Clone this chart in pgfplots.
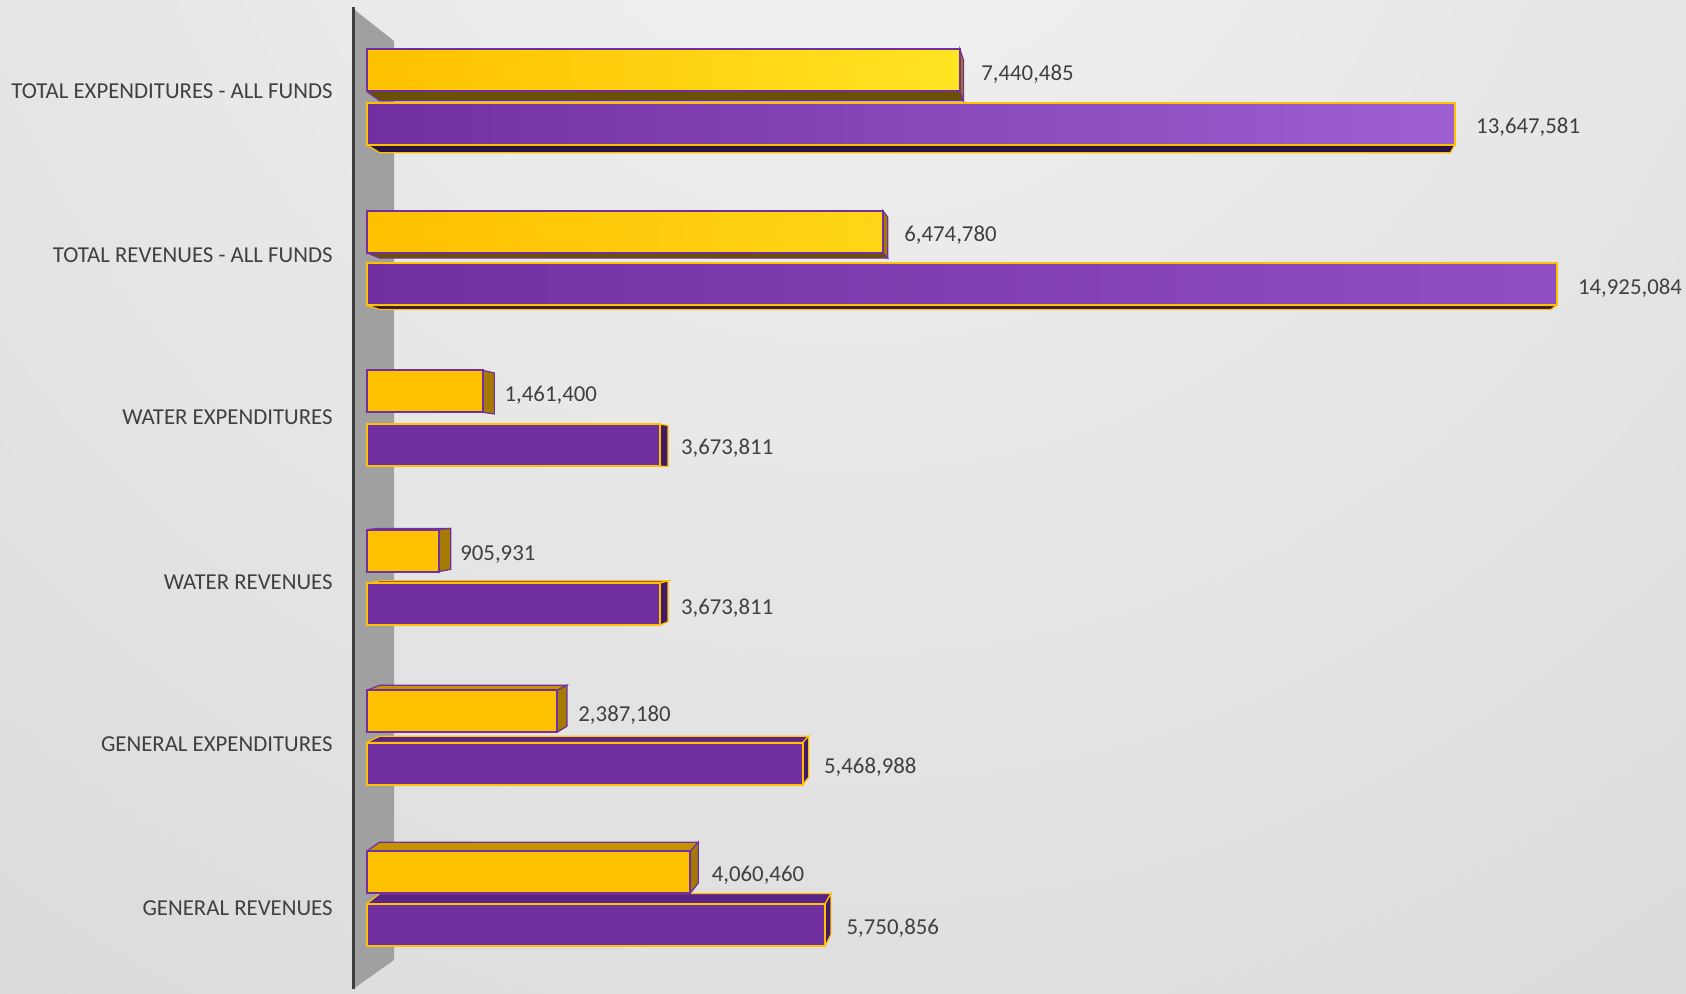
\documentclass[border=0pt]{standalone}
\usepackage{pgfplots}
\pgfplotsset{compat=1.18}
\usepackage{pgfplotstable}
\usepackage{fontspec}
\setmainfont{Carlito}
\definecolor{ylw}{HTML}{FFC000}
\definecolor{prp}{HTML}{7030A0}
\definecolor{ylwTE}{HTML}{FFE422}
\definecolor{ylwTR}{HTML}{FFD617}
\definecolor{prpTE}{HTML}{9D5FD2}
\definecolor{prpTR}{HTML}{904EC4}
\definecolor{ytop}{HTML}{C49400}
\definecolor{yside}{HTML}{A47B00}
\definecolor{ybot}{HTML}{6B5000}
\definecolor{ptop}{HTML}{5A2385}
\definecolor{pside}{HTML}{421A66}
\definecolor{pbot}{HTML}{2A1440}
\definecolor{txt}{HTML}{404040}
\definecolor{wall}{HTML}{A0A0A0}
\definecolor{axln}{HTML}{3F3F3F}
\definecolor{bgin}{HTML}{F3F3F3}
\definecolor{bgout}{HTML}{C3C3C3}

% front faces
\pgfplotstableread{
x y lab
1461400 601.6 1,461,400
905931 442.4 905,931
2387180 281.7 2,387,180
4060460 120.9 4,060,460
}\yfront
\pgfplotstableread{
x y lab
7440485 922.6 7,440,485
}\yfrontTE
\pgfplotstableread{
x y lab
6474780 761.3 6,474,780
}\yfrontTR
\pgfplotstableread{
x y lab
3673811 547.8 3,673,811
3673811 388.7 3,673,811
5468988 229.5 5,468,988
5750856 68.2 5,750,856
}\pfront
\pgfplotstableread{
x y lab
13647581 869.3 13,647,581
}\pfrontTE
\pgfplotstableread{
x y lab
14925084 708.6 14,925,084
}\pfrontTR

\begin{document}
\fontsize{11.4}{13.7}\selectfont
\begin{tikzpicture}
\begin{scope}
\clip (0,0) rectangle (843pt,496.5pt);
\shade[inner color=bgin, outer color=bgout] (425pt,621.5pt) circle (1500pt);
\end{scope}
\path[use as bounding box] (0,0) rectangle (843pt,496.5pt);
\begin{axis}[
  at={(0,0)}, anchor=south west,
  scale only axis, width=843pt, height=496.5pt,
  xmin=-4599270, xmax=16547100, ymin=0, ymax=993,
  clip=false,
  axis line style={draw=none},
  major tick length=0pt,
  scaled x ticks=false,
  xtick=\empty,
  unbounded coords=jump,
  ytick={86.5,249.9,412.3,576.9,739.2,902.7},
  yticklabels={GENERAL REVENUES, GENERAL EXPENDITURES, WATER REVENUES, WATER EXPENDITURES, TOTAL REVENUES - ALL FUNDS, TOTAL EXPENDITURES - ALL FUNDS},
  yticklabel style={anchor=east, inner sep=0pt, xshift=166.5pt, yshift=-0.6pt, text=txt, font=\fontsize{11.4}{13.7}\selectfont, text depth=0pt},
  nodes near coords align=horizontal,
  every node near coord/.append style={anchor=west, inner sep=0pt, xshift=10.2pt, yshift=-1pt, text=txt, font=\fontsize{11.4}{13.7}\selectfont, text depth=0pt},
]
% wall and axis line
\addplot[fill=wall, draw=none, mark=none] coordinates {(-171830,4) (-171830,984.4) (342400,952) (342400,33)} -- cycle;
\addplot[draw=axln, line width=1.5pt, mark=none] coordinates {(-171830,4) (-171830,985.5)};
% depth faces: yellow bottoms (total rows)
\addplot[fill=ybot, draw=prp, line width=0.6pt, mark=none] coordinates {
 (0,901.6) (7440485,901.6) (7484000,892.32) (163050,892.32) (0,901.6)
 (nan,nan)
 (0,740.3) (6474780,740.3) (6533900,734.89) (163050,734.89) (0,740.3)
};
% yellow tops (lower rows)
\addplot[fill=ytop, draw=prp, line width=0.6pt, mark=none] coordinates {
 (0,463.4) (905931,463.4) (1054300,464.64) (163050,464.64) (0,463.4)
 (nan,nan)
 (0,302.7) (2387180,302.7) (2511800,307.8) (163050,307.8) (0,302.7)
 (nan,nan)
 (0,141.9) (4060460,141.9) (4158200,150.85) (163050,150.85) (0,141.9)
};
% yellow right sides
\addplot[fill=yside, draw=prp, line width=0.6pt, mark=none] coordinates {
 (7440485,901.6) (7440485,943.6) (7484000,933.31) (7484000,892.32) (7440485,901.6)
 (nan,nan)
 (6474780,740.3) (6474780,782.3) (6533900,775.88) (6533900,734.89) (6474780,740.3)
 (nan,nan)
 (1461400,580.6) (1461400,622.6) (1601000,620.02) (1601000,579.03) (1461400,580.6)
 (nan,nan)
 (905931,421.4) (905931,463.4) (1054300,464.64) (1054300,423.65) (905931,421.4)
 (nan,nan)
 (2387180,260.7) (2387180,302.7) (2511800,307.8) (2511800,266.8) (2387180,260.7)
 (nan,nan)
 (4060460,99.9) (4060460,141.9) (4158200,150.85) (4158200,109.86) (4060460,99.9)
};
% purple bottoms (total rows)
\addplot[fill=pbot, draw=ylw, line width=0.6pt, mark=none] coordinates {
 (0,848.3) (13647581,848.3) (13592100,840.3) (163050,840.3) (0,848.3)
 (nan,nan)
 (0,687.6) (14925084,687.6) (14849800,683.46) (163050,683.46) (0,687.6)
};
% purple tops
\addplot[fill=ptop, draw=ylw, line width=0.6pt, mark=none] coordinates {
 (0,409.7) (3673811,409.7) (3778100,412.23) (163050,412.23) (0,409.7)
 (nan,nan)
 (0,250.5) (5468988,250.5) (5544200,256.85) (163050,256.85) (0,250.5)
 (nan,nan)
 (0,89.2) (5750856,89.2) (5821900,99.42) (163050,99.42) (0,89.2)
};
% purple right sides
\addplot[fill=pside, draw=ylw, line width=0.6pt, mark=none] coordinates {
 (3673811,526.8) (3673811,568.8) (3778100,567.51) (3778100,526.52) (3673811,526.8)
 (nan,nan)
 (3673811,367.7) (3673811,409.7) (3778100,412.23) (3778100,371.24) (3673811,367.7)
 (nan,nan)
 (5468988,208.5) (5468988,250.5) (5544200,256.85) (5544200,215.86) (5468988,208.5)
 (nan,nan)
 (5750856,47.2) (5750856,89.2) (5821900,99.42) (5821900,58.43) (5750856,47.2)
};
% front faces
\addplot[xbar, bar shift=0pt, bar width=42, fill=ylw, draw=prp, line width=1pt, nodes near coords, point meta=explicit symbolic] table[x=x,y=y,meta=lab] {\yfront};
\addplot[xbar, bar shift=0pt, bar width=42, left color=ylw, right color=ylwTE, draw=prp, line width=1pt, nodes near coords, point meta=explicit symbolic] table[x=x,y=y,meta=lab] {\yfrontTE};
\addplot[xbar, bar shift=0pt, bar width=42, left color=ylw, right color=ylwTR, draw=prp, line width=1pt, nodes near coords, point meta=explicit symbolic] table[x=x,y=y,meta=lab] {\yfrontTR};
\addplot[xbar, bar shift=0pt, bar width=42, fill=prp, draw=ylw, line width=1pt, nodes near coords, point meta=explicit symbolic] table[x=x,y=y,meta=lab] {\pfront};
\addplot[xbar, bar shift=0pt, bar width=42, left color=prp, right color=prpTE, draw=ylw, line width=1pt, nodes near coords, point meta=explicit symbolic] table[x=x,y=y,meta=lab] {\pfrontTE};
\addplot[xbar, bar shift=0pt, bar width=42, left color=prp, right color=prpTR, draw=ylw, line width=1pt, nodes near coords, point meta=explicit symbolic] table[x=x,y=y,meta=lab] {\pfrontTR};
\end{axis}
\end{tikzpicture}
\end{document}
